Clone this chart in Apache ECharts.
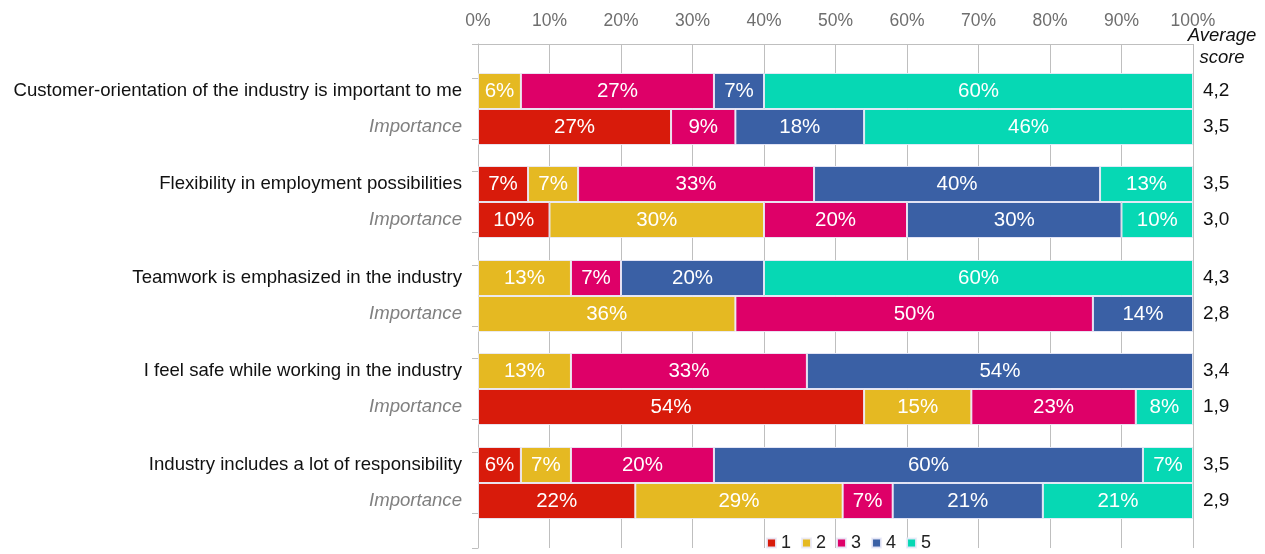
<!DOCTYPE html>
<html>
<head>
<meta charset="utf-8">
<script src="https://cdn.jsdelivr.net/npm/echarts@6/dist/echarts.min.js"></script>
<style>
html,body{margin:0;padding:0;background:#fff;}
#chart{width:1265px;height:554px;}
</style>
</head>
<body>
<div id="chart"></div>
<script>
const categories = [
  'Customer-orientation of the industry is important to me',
  'Flexibility in employment possibilities',
  'Teamwork is emphasized in the industry',
  'I feel safe while working in the industry',
  'Industry includes a lot of responsibility'
];
const subLabel = 'Importance';
const levels = ['1', '2', '3', '4', '5'];
// rows: statement, importance for each category in order
const level1 = [0, 27, 7, 10, 0, 0, 0, 54, 6, 22];
const level2 = [6, 0, 7, 30, 13, 36, 13, 15, 7, 29];
const level3 = [27, 9, 33, 20, 7, 50, 33, 23, 20, 7];
const level4 = [7, 18, 40, 30, 20, 14, 54, 0, 60, 21];
const level5 = [60, 46, 13, 10, 60, 0, 0, 8, 7, 21];
const scores = ['4,2', '3,5', '3,5', '3,0', '4,3', '2,8', '3,4', '1,9', '3,5', '2,9'];
const xTicks = [0, 10, 20, 30, 40, 50, 60, 70, 80, 90, 100];
const scoreTitle = 'Average\nscore';

const colors = ['#D81B0B', '#E5B922', '#DE0068', '#3A60A5', '#06D8B4'];
const levelData = [level1, level2, level3, level4, level5];
const FONT = 'Arial, "Liberation Sans"';

const plotLeft = 478, plotWidth = 715, plotTop = 44, plotH = 504;
const groupTops = [73, 166, 260, 353, 447];
const groupH = 72;

// decorative left-axis tick positions (pixels from plot top)
const leftTicks = [0, plotH];
groupTops.forEach(t => { leftTicks.push(t - plotTop + 5, t - plotTop + groupH - 6); });

const grids = [{left: plotLeft, width: plotWidth, top: plotTop, height: plotH}];
const xAxes = [{
  gridIndex: 0, type: 'value', position: 'top', min: 0, max: 100, interval: 10,
  axisLine: {show: true, lineStyle: {color: '#BFBFBF', width: 1}},
  axisTick: {show: false},
  splitLine: {show: true, lineStyle: {color: '#BFBFBF', width: 1}},
  axisLabel: {color: '#6E6E6E', fontSize: 17.5, fontFamily: FONT, margin: 14,
    formatter: v => xTicks.includes(v) ? v + '%' : ''}
}];
const yAxes = [{
  gridIndex: 0, type: 'value', min: 0, max: plotH, inverse: true,
  axisLine: {show: true, lineStyle: {color: '#BFBFBF', width: 1}},
  axisTick: {show: true, length: 6, customValues: leftTicks, lineStyle: {color: '#BFBFBF'}},
  axisLabel: {show: false}, splitLine: {show: false}
}];
const series = [];

categories.forEach((cat, g) => {
  const gi = g + 1;
  grids.push({left: plotLeft, width: plotWidth, top: groupTops[g], height: groupH});
  xAxes.push({gridIndex: gi, type: 'value', min: 0, max: 100, show: false});
  yAxes.push({
    gridIndex: gi, type: 'category', inverse: true, data: [cat, subLabel],
    axisLine: {show: false}, axisTick: {show: false}, splitLine: {show: false},
    axisLabel: {
      margin: 16,
      formatter: (v, i) => i === 0 ? '{a|' + v + '}' : '{b|' + v + '}',
      rich: {
        a: {color: '#111111', fontSize: 18.6, fontFamily: FONT},
        b: {color: '#808080', fontSize: 18.6, fontStyle: 'italic', fontFamily: FONT}
      }
    }
  });
  yAxes.push({
    gridIndex: gi, type: 'category', inverse: true, position: 'right',
    data: [scores[g * 2], scores[g * 2 + 1]],
    axisLine: {show: false}, axisTick: {show: false}, splitLine: {show: false},
    axisLabel: {margin: 10, color: '#111111', fontSize: 19, fontFamily: FONT}
  });
  levels.forEach((lv, k) => {
    const vals = [levelData[k][g * 2], levelData[k][g * 2 + 1]].map(v => v === 0 ? null : v);
    series.push({
      name: lv, type: 'bar', stack: 'g' + gi,
      xAxisIndex: gi, yAxisIndex: gi * 2 - 1,
      barCategoryGap: 0,
      data: vals,
      itemStyle: {color: colors[k], borderColor: 'rgba(235,235,250,0.9)', borderWidth: 1},
      label: {show: true, position: 'inside', color: '#ffffff', fontSize: 20.5,
        fontFamily: FONT, formatter: p => p.value + '%'},
      emphasis: {disabled: true}
    });
  });
});

const chart = echarts.init(document.getElementById('chart'), null, {renderer: 'canvas'});
chart.setOption({
  animation: false,
  color: colors,
  title: {
    text: scoreTitle, left: 1217, top: 20, textAlign: 'center',
    textStyle: {fontSize: 18.5, fontStyle: 'italic', fontWeight: 'normal', color: '#111111',
      fontFamily: FONT, lineHeight: 22}
  },
  legend: {
    data: levels, left: 766, top: 534, padding: 0, icon: 'rect', itemWidth: 9, itemHeight: 9, itemGap: 10,
    textStyle: {fontSize: 18, color: '#222222', fontFamily: FONT}
  },
  grid: grids, xAxis: xAxes, yAxis: yAxes, series: series
});
</script>
</body>
</html>
